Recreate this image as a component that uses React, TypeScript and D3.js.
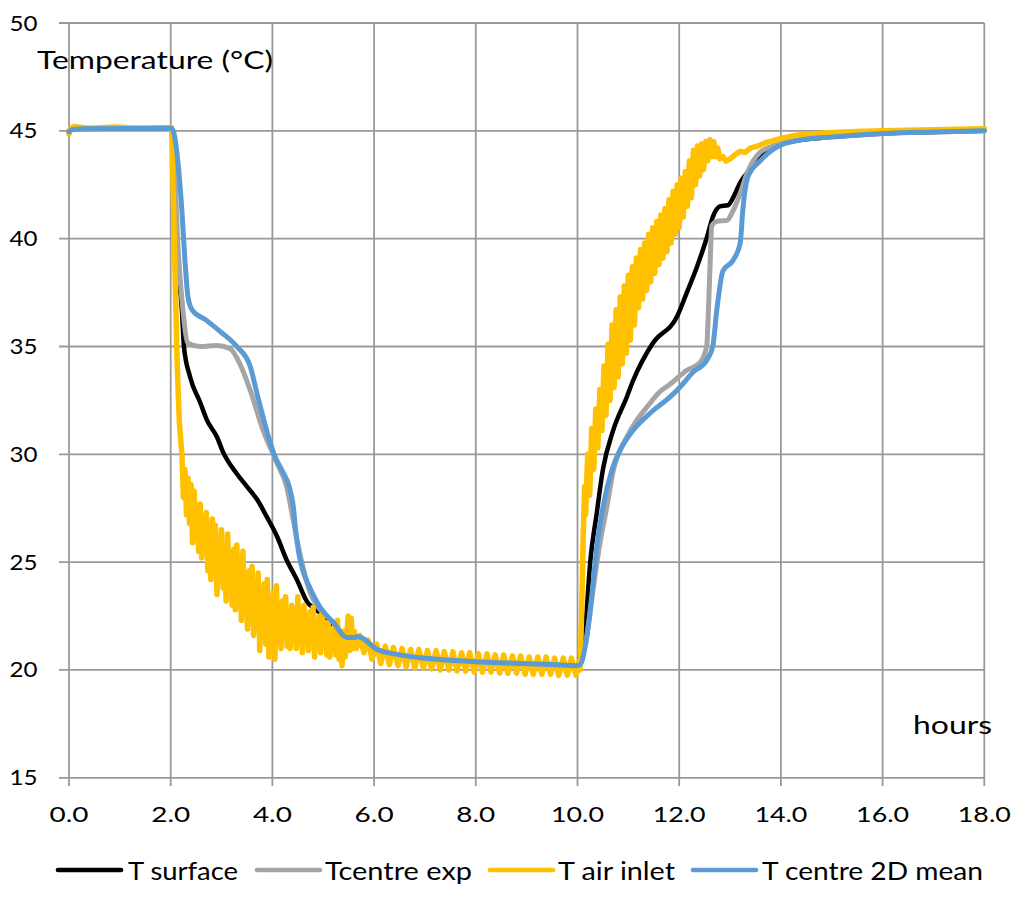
import React from 'react';
import * as d3 from 'd3';

// ---- axes ----
const xTicks = [0, 2, 4, 6, 8, 10, 12, 14, 16, 18];
const yTicks = [15, 20, 25, 30, 35, 40, 45, 50];

// ---- series: [hours, temperature °C] ----
const surfaceData: [number, number][] = [
  [0, 45.0], [0.05, 45.1], [2.0, 45.12], [2.05, 44.0], [2.12, 39.3], [2.22, 36.7], [2.26, 35.0],
  [2.38, 33.6], [2.58, 32.4], [2.71, 31.6], [2.91, 30.8], [3.03, 30.1], [3.3, 29.1], [3.5, 28.5],
  [3.7, 27.9], [3.89, 27.1], [4.09, 26.2], [4.28, 25.1], [4.48, 24.2], [4.7, 23.1], [4.8, 22.9],
  [5.07, 22.4], [5.47, 21.5], [5.6, 21.45], [5.72, 21.35], [6.06, 20.95], [6.5, 20.7], [7.5, 20.45],
  [8.5, 20.33], [9.5, 20.25], [10.0, 20.2], [10.08, 21.0], [10.15, 21.9], [10.25, 25.0], [10.38, 27.3],
  [10.5, 29.3], [10.7, 31.1], [10.97, 32.66], [11.09, 33.4], [11.48, 35.15], [11.96, 36.4], [12.15, 37.5],
  [12.35, 38.7], [12.55, 40.1], [12.66, 41.0], [12.8, 41.5], [12.96, 41.55], [13.06, 41.9], [13.2, 42.6],
  [13.39, 43.2], [13.73, 44.1], [14.0, 44.4], [14.38, 44.57], [15.02, 44.72], [16.0, 44.88], [17.0, 44.95],
  [18.0, 45.0],
];

const centreExpData: [number, number][] = [
  [0, 45.0], [0.05, 45.1], [2.0, 45.12], [2.05, 44.5], [2.14, 39.8], [2.24, 36.7], [2.34, 35.15],
  [2.58, 35.0], [2.9, 35.05], [3.17, 34.9], [3.36, 34.2], [3.56, 33.0], [3.82, 31.1], [4.09, 29.6],
  [4.28, 28.5], [4.41, 26.95], [4.54, 25.4], [4.74, 23.6], [4.94, 22.8], [5.2, 22.2], [5.47, 21.5],
  [5.6, 21.5], [5.68, 21.55], [6.06, 20.95], [6.5, 20.7], [7.5, 20.45], [8.5, 20.33], [9.5, 20.25],
  [10.0, 20.2], [10.07, 20.5], [10.18, 21.5], [10.31, 23.8], [10.45, 26.0], [10.58, 27.6], [10.7, 29.2],
  [10.97, 30.8], [11.17, 31.6], [11.37, 32.2], [11.62, 32.9], [11.82, 33.25], [12.15, 33.9], [12.41, 34.25],
  [12.54, 35.0], [12.58, 37.0], [12.61, 39.0], [12.64, 40.6], [12.74, 40.8], [12.94, 40.85], [13.06, 41.3],
  [13.2, 42.1], [13.33, 43.0], [13.59, 44.0], [13.92, 44.35], [14.38, 44.6], [15.02, 44.72], [16.0, 44.88],
  [17.0, 44.95], [18.0, 45.0],
];

const airInletData: [number, number][] = [
  [0, 44.85], [0.03, 45.1], [0.1, 45.2], [0.4, 45.12], [0.9, 45.18], [1.4, 45.12], [2.0, 45.15],
  [2.02, 45.15], [2.08, 39.0], [2.13, 34.0], [2.17, 31.5], [2.22, 30.0],
  [2.25, 28.0], [2.28, 29.3], [2.31, 27.2], [2.34, 28.9], [2.37, 26.8], [2.4, 28.6], [2.43, 25.9],
  [2.46, 28.3], [2.49, 26.4], [2.52, 27.6], [2.55, 25.5], [2.58, 27.7], [2.61, 25.2], [2.64, 27.0],
  [2.67, 25.6], [2.7, 27.3], [2.73, 24.6], [2.76, 26.6], [2.79, 24.2], [2.82, 27.0], [2.85, 24.8],
  [2.88, 26.7], [2.91, 23.5], [2.94, 25.9], [2.97, 24.2], [3.0, 26.5], [3.03, 23.8], [3.06, 25.7],
  [3.09, 23.2], [3.12, 26.3], [3.15, 23.7], [3.18, 25.3], [3.21, 23.0], [3.24, 25.6], [3.27, 22.8],
  [3.3, 25.8], [3.33, 23.4], [3.36, 24.9], [3.39, 22.3], [3.42, 25.5], [3.45, 22.8], [3.48, 24.4],
  [3.51, 21.9], [3.54, 24.6], [3.57, 22.4], [3.6, 24.8], [3.63, 21.6], [3.66, 23.7], [3.69, 22.2],
  [3.72, 24.5], [3.75, 20.9], [3.78, 23.4], [3.81, 21.5], [3.84, 24.0], [3.87, 21.2], [3.9, 24.2],
  [3.93, 20.6], [3.96, 23.1], [3.99, 21.3], [4.02, 23.6], [4.05, 20.5], [4.08, 23.9], [4.11, 21.4],
  [4.14, 22.8], [4.17, 21.0], [4.2, 23.2], [4.23, 21.6], [4.26, 23.4], [4.29, 21.1], [4.32, 22.6],
  [4.35, 21.0], [4.38, 23.0], [4.41, 21.5], [4.44, 22.7], [4.47, 21.0], [4.5, 23.4], [4.53, 21.3],
  [4.56, 22.5], [4.59, 20.8], [4.62, 23.0], [4.65, 21.4], [4.68, 22.4], [4.71, 20.9], [4.74, 22.7],
  [4.77, 21.5], [4.8, 22.9], [4.83, 20.6], [4.86, 22.2], [4.89, 21.2], [4.92, 22.5], [4.95, 20.8],
  [4.98, 22.6], [5.01, 21.3], [5.04, 22.0], [5.07, 20.7], [5.1, 22.2], [5.13, 20.6], [5.16, 21.8],
  [5.19, 20.9], [5.22, 22.0], [5.25, 20.7], [5.28, 22.3], [5.31, 20.5], [5.34, 21.6], [5.37, 20.2],
  [5.4, 21.8], [5.43, 20.6], [5.46, 21.5], [5.49, 22.5], [5.52, 20.9], [5.55, 22.4], [5.58, 21.0],
  [5.61, 21.8], [5.65, 21.0],
  [5.72, 21.6], [5.8, 20.8], [5.88, 21.4],
  [5.96, 20.5], [6.05, 21.2], [6.13, 20.3], [6.22, 21.1], [6.3, 20.25], [6.38, 21.05], [6.47, 20.2],
  [6.55, 21.0], [6.63, 20.15], [6.72, 20.95], [6.8, 20.1], [6.88, 20.95], [6.97, 20.1], [7.05, 20.9],
  [7.13, 20.05], [7.22, 20.9], [7.3, 20.0], [7.38, 20.85], [7.47, 20.0], [7.55, 20.85], [7.63, 19.95],
  [7.72, 20.8], [7.8, 19.95], [7.88, 20.8], [7.97, 19.9], [8.05, 20.75], [8.13, 19.9], [8.22, 20.75],
  [8.3, 19.9], [8.38, 20.7], [8.47, 19.85], [8.55, 20.7], [8.63, 19.85], [8.72, 20.65], [8.8, 19.85],
  [8.88, 20.65], [8.97, 19.8], [9.05, 20.6], [9.13, 19.8], [9.22, 20.6], [9.3, 19.8], [9.38, 20.6],
  [9.47, 19.8], [9.55, 20.55], [9.63, 19.75], [9.72, 20.55], [9.8, 19.75], [9.88, 20.55], [9.97, 19.75],
  [10.03, 20.4], [10.05, 20.0], [10.08, 22.5], [10.11, 26.0], [10.14, 28.5],
  [10.16, 27.2], [10.2, 30.0], [10.24, 28.1], [10.28, 31.2], [10.32, 29.3], [10.36, 32.1], [10.4, 30.3],
  [10.44, 33.0], [10.48, 31.1], [10.52, 34.1], [10.56, 31.8], [10.6, 35.1], [10.64, 32.5], [10.68, 36.0],
  [10.72, 33.1], [10.76, 36.7], [10.8, 33.6], [10.84, 37.3], [10.88, 34.2], [10.92, 37.8], [10.96, 34.7],
  [11.0, 38.3], [11.04, 35.3], [11.08, 38.7], [11.12, 36.0], [11.16, 39.1], [11.2, 36.8], [11.24, 39.5],
  [11.28, 37.2], [11.32, 39.8], [11.36, 37.6], [11.4, 40.2], [11.44, 38.0], [11.48, 40.5], [11.52, 38.4],
  [11.56, 40.8], [11.6, 38.8], [11.64, 41.1], [11.68, 39.1], [11.72, 41.4], [11.76, 39.4], [11.8, 41.8],
  [11.84, 39.8], [11.88, 42.2], [11.92, 40.2], [11.96, 42.5], [12.0, 40.5], [12.04, 42.8], [12.08, 41.0],
  [12.12, 43.1], [12.16, 41.5], [12.2, 43.6], [12.24, 41.9], [12.28, 44.1], [12.32, 42.5], [12.36, 44.3],
  [12.4, 42.9], [12.44, 44.4], [12.48, 43.2], [12.52, 44.5], [12.56, 43.6], [12.6, 44.6], [12.64, 43.8],
  [12.68, 44.5], [12.72, 43.8], [12.76, 44.2], [12.8, 43.7], [12.86, 43.8], [12.92, 43.6], [13.0, 43.7],
  [13.1, 43.9], [13.2, 44.05], [13.3, 44.0], [13.4, 44.2], [13.55, 44.3], [13.7, 44.45], [13.85, 44.55],
  [14.0, 44.65], [14.3, 44.8], [14.7, 44.88], [15.0, 44.92], [15.5, 44.97], [16.0, 45.0], [17.0, 45.05],
  [18.0, 45.1],
];

const centre2DData: [number, number][] = [
  [0, 44.95], [0.05, 45.05], [0.3, 45.1], [2.0, 45.12], [2.05, 45.0], [2.14, 43.6], [2.22, 41.3],
  [2.28, 39.0], [2.34, 37.3], [2.42, 36.7], [2.71, 36.2], [2.97, 35.7], [3.3, 35.0], [3.56, 34.1],
  [3.72, 32.6], [3.95, 30.6], [4.05, 29.9], [4.2, 29.2], [4.33, 28.5], [4.41, 27.6], [4.46, 26.4],
  [4.52, 25.4], [4.6, 24.6], [4.74, 23.8], [4.94, 22.9], [5.2, 22.2], [5.47, 21.5], [5.6, 21.5],
  [5.68, 21.55], [6.06, 20.95], [6.5, 20.7], [7.5, 20.45], [8.5, 20.33], [9.5, 20.25], [10.0, 20.2],
  [10.07, 20.3], [10.15, 21.07], [10.28, 23.4], [10.38, 25.7], [10.5, 27.55], [10.68, 29.3], [10.84, 30.2],
  [11.09, 31.1], [11.45, 31.95], [11.82, 32.66], [12.01, 33.1], [12.27, 33.8], [12.55, 34.4], [12.66, 35.0],
  [12.74, 36.7], [12.86, 38.5], [13.06, 39.0], [13.2, 39.8], [13.25, 41.3], [13.35, 42.85], [13.59, 43.6],
  [13.92, 44.25], [14.38, 44.57], [15.02, 44.72], [16.0, 44.88], [17.0, 44.95], [18.0, 45.0],
];

const seriesNames = ['T surface', 'Tcentre exp', 'T air inlet', 'T centre 2D mean'];
const seriesColors = ['#000000', '#A5A5A5', '#FFC000', '#5B9BD5'];
const seriesData = [surfaceData, centreExpData, airInletData, centre2DData];

const FONT = 'Lato, "Open Sans", sans-serif';

export default function App() {
  const W = 1024;
  const H = 897;
  const x = d3.scaleLinear().domain([0, 18]).range([69, 984.3]);
  const y = d3.scaleLinear().domain([15, 50]).range([777.8, 23]);
  const smoothLine = d3
    .line<[number, number]>()
    .x((d) => x(d[0]))
    .y((d) => y(d[1]))
    .curve(d3.curveMonotoneX);
  const rawLine = d3
    .line<[number, number]>()
    .x((d) => x(d[0]))
    .y((d) => y(d[1]));

  const gridColor = '#999999';
  const legendLineX = [58, 257, 490, 693];
  const legendTextX = [128, 325, 558, 762];
  const legendTextW = [110, 147, 117, 221];

  return (
    <svg
      width={W}
      height={H}
      style={{ position: 'absolute', left: 0, top: 0, background: '#fff' }}
      fontFamily={FONT}
    >
      <rect x={0} y={0} width={W} height={H} fill="#fff" />
      {/* horizontal gridlines + y ticks */}
      {yTicks.map((t) => (
        <g key={'y' + t}>
          <line x1={59} x2={x(18)} y1={y(t)} y2={y(t)} stroke={gridColor} strokeWidth={1.8} />
          <text
            x={37.5}
            y={y(t) + 7.5}
            textAnchor="end"
            fontSize={22}
            fill="#000"
            textLength={28}
            lengthAdjust="spacingAndGlyphs"
          >
            {t}
          </text>
        </g>
      ))}
      {/* vertical gridlines + x ticks */}
      {xTicks.map((t) => {
        const label = t.toFixed(1);
        return (
          <g key={'x' + t}>
            <line x1={x(t)} x2={x(t)} y1={y(50)} y2={786} stroke={gridColor} strokeWidth={1.8} />
            <text
              x={x(t)}
              y={821.5}
              textAnchor="middle"
              fontSize={22}
              fill="#000"
              textLength={label.length === 3 ? 39 : 53}
              lengthAdjust="spacingAndGlyphs"
            >
              {label}
            </text>
          </g>
        );
      })}

      {/* axis titles */}
      <text x={37} y={69} fontSize={24.5} fill="#000" textLength={236} lengthAdjust="spacingAndGlyphs">
        Temperature (°C)
      </text>
      <text x={913} y={734} fontSize={24.5} fill="#000" textLength={79} lengthAdjust="spacingAndGlyphs">
        hours
      </text>

      {/* series */}
      {seriesData.map((data, i) => (
        <path
          key={seriesNames[i]}
          d={(i === 2 ? rawLine(data) : smoothLine(data)) || ''}
          fill="none"
          stroke={seriesColors[i]}
          strokeWidth={i === 0 ? 4.5 : i === 2 ? 5.5 : 5}
          strokeLinejoin="round"
          strokeLinecap="round"
        />
      ))}

      {/* legend */}
      {seriesNames.map((name, i) => (
        <g key={'leg' + i}>
          <line
            x1={legendLineX[i]}
            x2={legendLineX[i] + 63}
            y1={870}
            y2={870}
            stroke={seriesColors[i]}
            strokeWidth={4.7}
            strokeLinecap="round"
          />
          <text
            x={legendTextX[i]}
            y={880}
            fontSize={24.5}
            fill="#000"
            textLength={legendTextW[i]}
            lengthAdjust="spacingAndGlyphs"
          >
            {name}
          </text>
        </g>
      ))}
    </svg>
  );
}
